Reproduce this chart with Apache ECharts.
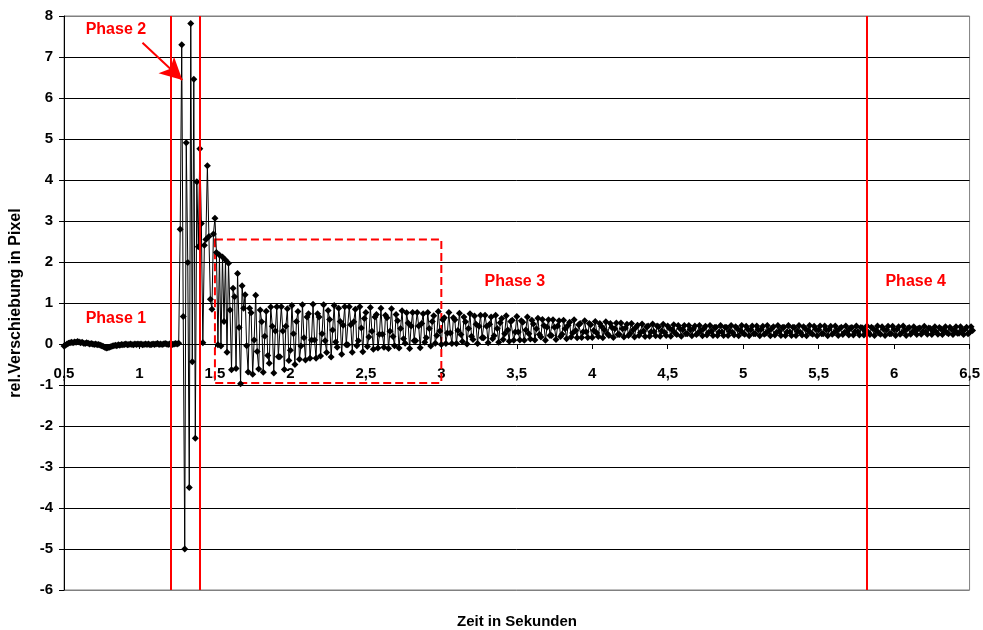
<!DOCTYPE html>
<html>
<head>
<meta charset="utf-8">
<script src="https://cdn.jsdelivr.net/npm/echarts@6/dist/echarts.min.js"></script>
<style>
html,body{margin:0;padding:0;background:#fff;}
#chart{width:983px;height:630px;}
</style>
</head>
<body>
<div id="chart"></div>
<script>
// Sampling of the measurement (seconds)
const startTime = 0.5;
const sampleStep = 0.01;

// Phase 1: 0.50 s – 1.26 s (rest)
const phase1Values = [
-0.05,-0.03,0.00,0.02,0.03,0.04,0.03,0.05,0.04,0.06,
0.05,0.03,0.04,0.02,0.01,0.03,0.02,0.00,0.01,0.00,
-0.01,0.00,-0.02,-0.01,-0.03,-0.04,-0.06,-0.08,-0.10,-0.09,
-0.08,-0.07,-0.05,-0.04,-0.03,-0.04,-0.02,-0.03,-0.01,-0.02,
-0.01,0.00,-0.02,-0.01,0.00,-0.01,-0.02,0.00,-0.01,0.00,
-0.01,0.00,-0.02,-0.01,0.00,-0.01,0.00,-0.02,-0.01,0.00,
-0.01,0.00,0.01,-0.01,0.00,-0.01,0.00,0.01,0.00,-0.01,
0.00,0.01,-0.01,0.00,0.01,0.00,0.02
];

// Phase 2: 1.27 s – 1.50 s (impact)
const phase2Values = [
2.80,7.30,0.67,-5.00,4.91,1.99,-3.50,7.82,-0.43,6.46,
-2.30,3.96,2.37,4.76,2.94,0.03,2.41,2.55,4.35,2.62,
1.09,0.85,2.68,3.07
];

// 1.51 s – 1.69 s
const transitionValues = [
2.23,-0.02,2.17,-0.05,2.12,0.55,2.05,-0.20,1.97,0.83,
-0.63,1.36,1.15,-0.60,1.72,0.40,-0.97,1.42,0.87
];

// Phase 3 / 4: 1.70 s – 6.52 s (decaying oscillation), one row = 0.1 s
const decayValues = [
1.20,-0.04,-0.68,0.87,0.76,-0.74,0.10,1.19,-0.18,-0.61,
0.83,0.54,-0.69,0.19,0.80,-0.28,-0.47,0.90,0.43,-0.71,
0.32,0.91,-0.31,-0.31,0.91,0.32,-0.62,0.43,0.86,-0.40,
-0.15,0.94,0.25,-0.50,0.55,0.79,-0.37,-0.05,0.96,0.15,
-0.39,0.66,0.74,-0.35,0.10,0.97,0.10,-0.35,0.74,0.66,
-0.29,0.25,0.96,0.08,-0.21,0.82,0.60,-0.32,0.34,0.94,
0.05,-0.08,0.87,0.55,-0.25,0.46,0.91,-0.02,-0.02,0.91,
0.47,-0.20,0.54,0.85,-0.04,0.08,0.91,0.39,-0.19,0.62,
0.77,-0.06,0.17,0.89,0.31,-0.13,0.66,0.72,-0.10,0.24,
0.87,0.24,-0.08,0.70,0.64,-0.11,0.31,0.86,0.18,-0.04,
0.72,0.57,-0.10,0.38,0.81,0.13,0.02,0.76,0.51,-0.11,
0.44,0.77,0.08,0.08,0.77,0.44,-0.09,0.50,0.74,0.04,
0.15,0.77,0.38,-0.05,0.55,0.69,0.02,0.21,0.79,0.32,
-0.01,0.59,0.64,0.01,0.27,0.77,0.27,0.01,0.64,0.59,
0.01,0.33,0.75,0.23,0.06,0.66,0.54,0.00,0.38,0.74,
0.19,0.11,0.68,0.48,0.01,0.43,0.70,0.15,0.15,0.70,
0.43,0.03,0.48,0.66,0.13,0.20,0.70,0.38,0.04,0.52,
0.62,0.11,0.25,0.69,0.34,0.07,0.55,0.58,0.09,0.29,
0.67,0.29,0.10,0.57,0.53,0.09,0.34,0.66,0.25,0.12,
0.58,0.49,0.10,0.37,0.63,0.23,0.17,0.60,0.45,0.09,
0.41,0.59,0.21,0.21,0.59,0.41,0.11,0.44,0.57,0.18,
0.24,0.58,0.37,0.13,0.46,0.53,0.17,0.27,0.59,0.33,
0.15,0.47,0.50,0.16,0.30,0.57,0.30,0.16,0.50,0.47,
0.16,0.33,0.55,0.27,0.18,0.50,0.43,0.15,0.35,0.54,
0.25,0.21,0.50,0.40,0.16,0.37,0.51,0.23,0.23,0.51,
0.37,0.17,0.39,0.48,0.21,0.25,0.50,0.34,0.17,0.41,
0.46,0.21,0.28,0.49,0.32,0.18,0.42,0.44,0.19,0.30,
0.49,0.30,0.20,0.44,0.42,0.19,0.32,0.48,0.28,0.21,
0.44,0.39,0.19,0.34,0.47,0.26,0.23,0.45,0.38,0.19,
0.35,0.45,0.25,0.25,0.45,0.35,0.20,0.37,0.44,0.23,
0.26,0.45,0.33,0.20,0.38,0.43,0.22,0.28,0.45,0.31,
0.21,0.40,0.41,0.21,0.29,0.45,0.29,0.21,0.41,0.40,
0.21,0.31,0.45,0.28,0.22,0.42,0.38,0.20,0.33,0.45,
0.26,0.24,0.43,0.36,0.20,0.35,0.44,0.25,0.25,0.44,
0.35,0.20,0.36,0.43,0.24,0.26,0.45,0.33,0.20,0.38,
0.42,0.22,0.28,0.45,0.31,0.21,0.40,0.41,0.21,0.29,
0.45,0.29,0.21,0.41,0.40,0.21,0.31,0.45,0.28,0.22,
0.42,0.38,0.20,0.33,0.45,0.26,0.24,0.43,0.36,0.20,
0.35,0.44,0.25,0.25,0.44,0.35,0.20,0.36,0.43,0.24,
0.27,0.44,0.33,0.21,0.38,0.41,0.23,0.28,0.44,0.31,
0.22,0.39,0.40,0.22,0.30,0.44,0.30,0.22,0.40,0.39,
0.22,0.31,0.44,0.28,0.23,0.41,0.38,0.21,0.33,0.44,
0.27,0.24,0.42,0.36,0.21,0.35,0.43,0.25,0.25,0.43,
0.35,0.21,0.36,0.42,0.24,0.27,0.44,0.33,0.21,0.38,
0.40,0.24,0.29,0.42,0.31,0.23,0.38,0.39,0.24,0.30,
0.43,0.30,0.24,0.39,0.38,0.23,0.31,0.42,0.29,0.24,
0.40,0.37,0.23,0.33,0.42,0.28,0.25,0.41,0.36,0.23,
0.34,0.42,0.26,0.26,0.42,0.34,0.23,0.36,0.41,0.25,
0.28,0.42,0.33
];

const values = phase1Values.concat(phase2Values, transitionValues, decayValues);
const seriesData = values.map((v, i) => [Number((startTime + i * sampleStep).toFixed(2)), v]);

const FONT = '"Liberation Sans", Arial, Helvetica, sans-serif';
const gridColors = ['#808080','#000','#000','#000','#000','#000','#000','#000','#000','#000','#000','#000','#000','#000','#808080'];

const chart = echarts.init(document.getElementById('chart'), null, {renderer: 'canvas'});
chart.setOption({
  animation: false,
  backgroundColor: '#ffffff',
  grid: {left: 63, right: 12, top: 16, bottom: 40, show: true, borderColor: '#808080', borderWidth: 1, backgroundColor: 'transparent'},
  xAxis: {
    type: 'value', min: 0.5, max: 6.5, interval: 0.5,
    axisLine: {onZero: true, lineStyle: {color: '#000', width: 1}},
    axisTick: {show: true, length: 5, lineStyle: {color: '#000'}},
    axisLabel: {color: '#000', fontFamily: FONT, fontWeight: 'bold', fontSize: 15, margin: -224,
      formatter: v => String(v).replace('.', ',')},
    splitLine: {show: false}
  },
  yAxis: {
    type: 'value', min: -6, max: 8, interval: 1,
    name: 'rel.Verschiebung in Pixel', nameLocation: 'middle', nameGap: 40,
    nameTextStyle: {color: '#000', fontFamily: FONT, fontWeight: 'bold', fontSize: 16},
    axisLine: {show: true, onZero: false, lineStyle: {color: '#000', width: 1}},
    axisTick: {show: true, length: 5, lineStyle: {color: '#000'}},
    axisLabel: {color: '#000', fontFamily: FONT, fontWeight: 'bold', fontSize: 15, margin: 11},
    splitLine: {show: true, lineStyle: {color: gridColors, width: 1}}
  },
  graphic: [{
    type: 'text', x: 517, y: 622,
    style: {text: 'Zeit in Sekunden', font: 'bold 15px ' + FONT, fill: '#000', align: 'center', verticalAlign: 'middle'}
  }],
  series: [{
    type: 'line',
    data: seriesData,
    symbol: 'diamond', symbolSize: 7, showAllSymbol: true,
    itemStyle: {color: '#000'},
    lineStyle: {color: '#000', width: 1},
    clip: false, silent: true, z: 2
  }, {
    type: 'line', data: [], z: 5, silent: true,
    markArea: {
      silent: true, label: {show: false},
      itemStyle: {color: 'rgba(0,0,0,0)', borderColor: '#ff0000', borderWidth: 2, borderType: [8, 4]},
      data: [[{xAxis: 1.5, yAxis: 2.55}, {xAxis: 3.0, yAxis: -0.95}]]
    },
    markLine: {
      silent: true, symbol: 'none', label: {show: false},
      lineStyle: {color: '#ff0000', width: 2, type: 'solid'},
      data: [
        {xAxis: 1.214}, {xAxis: 1.401}, {xAxis: 5.821},
        [{coord: [1.02, 7.35], symbol: 'none'}, {coord: [1.284, 6.44], symbol: 'arrow', symbolSize: [17, 22]}]
      ]
    },
    markPoint: {
      silent: true, symbol: 'rect', symbolSize: 1,
      itemStyle: {color: 'rgba(0,0,0,0)'},
      label: {show: true, position: 'inside', formatter: '{b}', color: '#ff0000', fontFamily: FONT, fontWeight: 'bold', fontSize: 16},
      data: [
        {name: 'Phase 1', coord: [0.844, 0.63]},
        {name: 'Phase 2', coord: [0.844, 7.68]},
        {name: 'Phase 3', coord: [3.487, 1.52]},
        {name: 'Phase 4', coord: [6.143, 1.52]}
      ]
    }
  }]
});
</script>
</body>
</html>
